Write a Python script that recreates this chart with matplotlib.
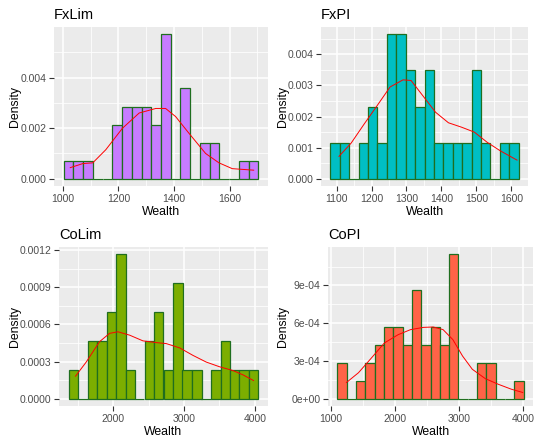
import numpy as np
import matplotlib
matplotlib.use('Agg')
import matplotlib.pyplot as plt
from matplotlib.ticker import FixedLocator, FuncFormatter

plt.rcParams['font.family'] = ['Liberation Sans', 'DejaVu Sans']

W, H = 537, 441

# Panel names
names = ['FxLim', 'FxPI', 'CoLim', 'CoPI']

# Histogram bins: first left edge, bin width, counts per bin
bin_start = [1003.5, 1082.5, 1369.0, 1101.0]
bin_width = [35.0, 26.9, 134.1, 145.2]
counts = [
  [1, 1, 1, 0, 0, 3, 4, 4, 4, 3, 8, 0, 5, 0, 2, 2, 0, 0, 1, 1],
  [1, 1, 0, 1, 2, 1, 4, 4, 3, 2, 3, 1, 1, 1, 1, 3, 1, 0, 1, 1],
  [1, 0, 2, 2, 3, 5, 1, 0, 2, 3, 1, 4, 1, 1, 0, 1, 2, 1, 1, 1],
  [2, 0, 1, 2, 3, 4, 4, 3, 6, 3, 4, 3, 8, 0, 0, 2, 2, 0, 0, 1],
]

# Density curves
curve_x = [
  [1027, 1072, 1108, 1155, 1215, 1275, 1335, 1370, 1406, 1454, 1514, 1562, 1610, 1687],
  [1107, 1142, 1179, 1216, 1253, 1290, 1313, 1346, 1383, 1420, 1457, 1494, 1531, 1568, 1616],
  [1468, 1619, 1807, 1948, 2066, 2231, 2419, 2607, 2748, 2939, 3125, 3313, 3501, 3689, 3831, 3981],
  [1243, 1431, 1634, 1836, 2049, 2242, 2444, 2597, 2749, 2901, 3053, 3205, 3407, 3610, 3813, 3990],
]
curve_y = [
  [0.00044, 0.00060, 0.00063, 0.00115, 0.00200, 0.00260, 0.00278, 0.00278, 0.00246, 0.00180,
   0.00100, 0.00063, 0.00040, 0.00034],
  [0.00072, 0.00115, 0.00176, 0.00235, 0.00295, 0.00318, 0.00316, 0.00268, 0.00214, 0.00180,
   0.00166, 0.00150, 0.00117, 0.00090, 0.00060],
  [0.000182, 0.000296, 0.000460, 0.000527, 0.000540, 0.000513, 0.000467, 0.000453, 0.000445,
   0.000410, 0.000350, 0.000296, 0.000258, 0.000228, 0.000193, 0.000147],
  [0.000129, 0.000207, 0.000325, 0.000444, 0.000509, 0.000549, 0.000567, 0.000570, 0.000549,
   0.000470, 0.000339, 0.000234, 0.000160, 0.000115, 0.000076, 0.000050],
]

# Tick positions and labels
x_ticks = [
  [1000, 1200, 1400, 1600],
  [1100, 1200, 1300, 1400, 1500, 1600],
  [2000, 3000, 4000],
  [1000, 2000, 3000, 4000],
]
y_ticks = [
  [0.0, 0.002, 0.004],
  [0.0, 0.001, 0.002, 0.003, 0.004],
  [0.0, 0.0003, 0.0006, 0.0009, 0.0012],
  [0.0, 0.0003, 0.0006, 0.0009],
]
y_labels = [
  ['0.000', '0.002', '0.004'],
  ['0.000', '0.001', '0.002', '0.003', '0.004'],
  ['0.0000', '0.0003', '0.0006', '0.0009', '0.0012'],
  ['0e+00', '3e-04', '6e-04', '9e-04'],
]

fills = ['#C77CFF', '#00BFC4', '#7CAE00', '#FF6347']

# panel boxes in pixels: left, right, top, bottom; plus x of the y-label
boxes = [(54, 268, 27, 186), (321, 528, 27, 186), (59, 268, 247, 406), (328, 533, 247, 406)]
ylab_x = [21, 289, 21, 289]


def minors(ticks):
  step = ticks[1] - ticks[0]
  ext = [ticks[0] - step] + list(ticks) + [ticks[-1] + step]
  return [(a + b) / 2 for a, b in zip(ext[:-1], ext[1:])]


def draw_panel(fig, i):
  l, r, t, b = boxes[i]
  ax = fig.add_axes([l / W, 1 - b / H, (r - l) / W, (b - t) / H])
  ax.set_facecolor('#EBEBEB')
  for s in ax.spines.values():
    s.set_visible(False)

  n = sum(counts[i])
  w = bin_width[i]
  lefts = bin_start[i] + w * np.arange(len(counts[i]))
  dens = np.array(counts[i]) / (n * w)
  ax.bar(lefts, dens, width=w, align='edge', color=fills[i],
         edgecolor='#1F6E1F', linewidth=0.9, zorder=3)
  ax.plot(curve_x[i], curve_y[i], color='#FF0000', linewidth=0.7, zorder=4)

  x0, x1 = lefts[0], lefts[-1] + w
  pad = (x1 - x0) * 0.05
  ax.set_xlim(x0 - pad, x1 + pad)
  top = dens.max()
  ax.set_ylim(-top * 0.05, top * 1.05)

  ax.xaxis.set_major_locator(FixedLocator(x_ticks[i]))
  ax.xaxis.set_minor_locator(FixedLocator(minors(x_ticks[i])))
  ax.yaxis.set_major_locator(FixedLocator(y_ticks[i]))
  ax.yaxis.set_minor_locator(FixedLocator(minors(y_ticks[i])))
  ax.set_yticklabels(y_labels[i])
  ax.xaxis.set_major_formatter(FuncFormatter(lambda v, p: '%d' % v))

  ax.grid(which='major', color='white', linewidth=1.1, zorder=0)
  ax.grid(which='minor', color='white', linewidth=0.55, zorder=0)
  ax.set_axisbelow(True)
  ax.tick_params(which='major', length=3.5, width=0.8, color='#333333',
                 labelsize=7.5, labelcolor='#4D4D4D', pad=2)
  ax.tick_params(which='minor', length=0)

  ax.set_xlabel('Wealth', fontsize=8.8, color='black', labelpad=1.5)
  ax.set_ylabel('Density', fontsize=8.8, color='black')
  ax.yaxis.set_label_coords((ylab_x[i] - l) / (r - l), 0.5)
  ax.set_title(names[i], loc='left', fontsize=10.5, pad=6)


def main():
  fig = plt.figure(figsize=(W / 100, H / 100), dpi=100)
  fig.patch.set_facecolor('white')
  for i in range(4):
    draw_panel(fig, i)
  fig.savefig('out.png', dpi=100)


if __name__ == '__main__':
  main()
